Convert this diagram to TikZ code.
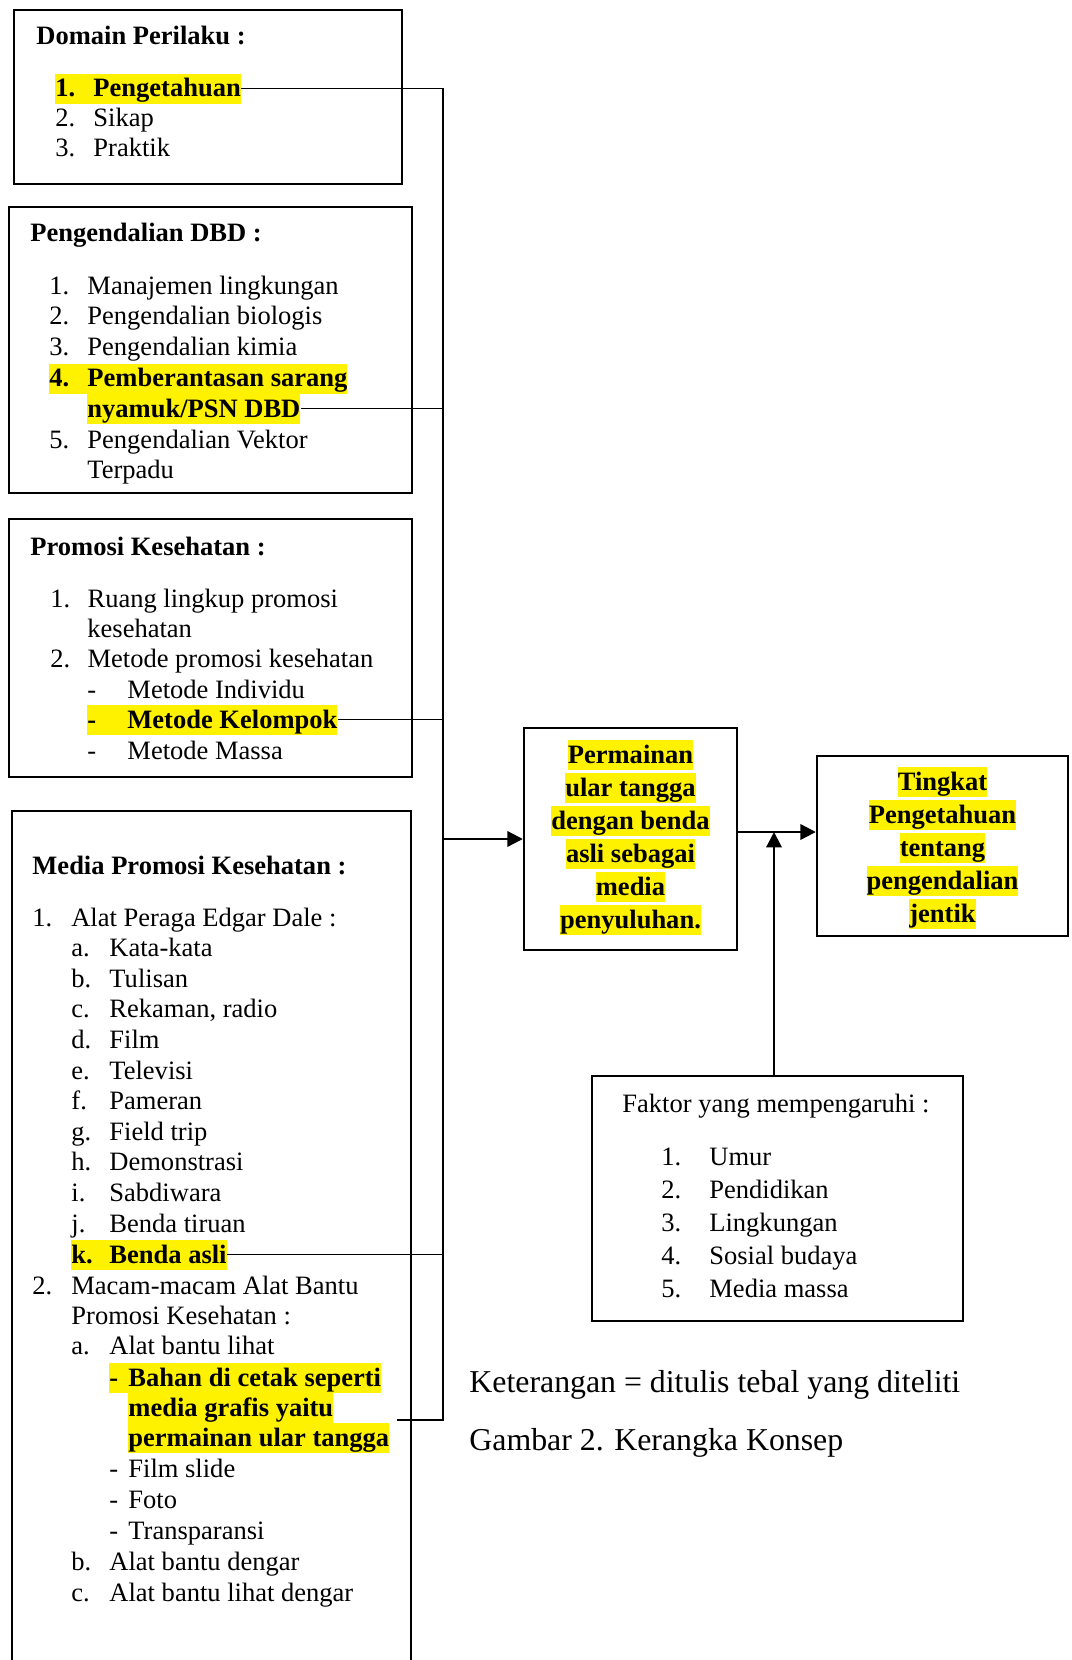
\documentclass[tikz,border=0pt]{standalone}
\usepackage{fontspec}
\setmainfont{Liberation Serif}
\usetikzlibrary{fit,arrows.meta}
\newcommand{\numlbl}[2][17.2pt]{\makebox[#1][l]{#2}}
\newcommand{\mk}[1]{{\fboxsep=0pt\colorbox{yellow}{\vrule height 10.6pt depth 3pt width 0pt #1}}}

\begin{document}
\begin{tikzpicture}[x=0.4525pt, y=-0.4525pt,
  box/.style={draw, line width=1.1pt, inner sep=0pt},
  txt/.style={anchor=base west, inner sep=0pt, font=\fontsize{12}{14}\selectfont},
  hd/.style={txt, font=\fontsize{12}{14}\selectfont\bfseries},
  hl/.style={txt, fill=yellow, text height=10.6pt, text depth=3pt, font=\fontsize{12}{14}\selectfont\bfseries},
  midtxt/.style={anchor=north, inner sep=0pt, align=center, font=\fontsize{12}{14.9}\selectfont\bfseries},
  link/.style={line width=0.6pt},
  arr/.style={line width=1pt, -{Triangle[length=7pt,width=7pt]}}]
\useasboundingbox (0,0) rectangle (1071,1660);
\clip (0,0) rectangle (1071,1660);

% domain perilaku
\node[box, fit={(14,10) (402,184)}] (domain) {};
\node[hd] (domaint) at (36,45) {Domain Perilaku :};
\node[hl] (dom1) at (55,97) {\numlbl{1.}Pengetahuan};
\node[txt] (dom2) at (55,127) {\numlbl{2.}Sikap};
\node[txt] (dom3) at (55,157) {\numlbl{3.}Praktik};

% pengendalian dbd
\node[box, fit={(9,207) (412,493)}] (dbd) {};
\node[hd] (dbdt) at (30,242) {Pengendalian DBD :};
\node[txt] (dbd1) at (49,295) {\numlbl{1.}Manajemen lingkungan};
\node[txt] (dbd2) at (49,325) {\numlbl{2.}Pengendalian biologis};
\node[txt] (dbd3) at (49,356) {\numlbl{3.}Pengendalian kimia};
\node[hl] (dbd4) at (49,387) {\numlbl{4.}Pemberantasan sarang};
\node[hl] (psn) at (87,417) {nyamuk/PSN DBD};
\node[txt] (dbd5) at (49,448) {\numlbl{5.}Pengendalian Vektor};
\node[txt] (dbd5b) at (87,478) {Terpadu};

% promosi kesehatan
\node[box, fit={(9,519) (412,777)}] (promkes) {};
\node[hd] (promkest) at (30,555) {Promosi Kesehatan :};
\node[txt] (pk1) at (50,607) {\numlbl[16.8pt]{1.}Ruang lingkup promosi};
\node[txt] (pk1b) at (87,637) {kesehatan};
\node[txt] (pk2) at (50,667) {\numlbl[16.8pt]{2.}Metode promosi kesehatan};
\node[txt] (pk2a) at (87,698) {\numlbl[18.1pt]{-}Metode Individu};
\node[hl] (kelompok) at (87,728) {\numlbl[18.1pt]{-}Metode Kelompok};
\node[txt] (pk2c) at (87,759) {\numlbl[18.1pt]{-}Metode Massa};

% media promosi kesehatan
\node[box, fit={(12,811) (411,1700)}] (media) {};
\node[hd] (mediat) at (32,874) {Media Promosi Kesehatan :};
\node[txt] (md1) at (32,926) {\numlbl[17.6pt]{1.}Alat Peraga Edgar Dale :};
\node[txt] (md1a) at (71,956) {\numlbl{a.}Kata-kata};
\node[txt] (md1b) at (71,987) {\numlbl{b.}Tulisan};
\node[txt] (md1c) at (71,1017) {\numlbl{c.}Rekaman, radio};
\node[txt] (md1d) at (71,1048) {\numlbl{d.}Film};
\node[txt] (md1e) at (71,1079) {\numlbl{e.}Televisi};
\node[txt] (md1f) at (71,1109) {\numlbl{f.}Pameran};
\node[txt] (md1g) at (71,1140) {\numlbl{g.}Field trip};
\node[txt] (md1h) at (71,1170) {\numlbl{h.}Demonstrasi};
\node[txt] (md1i) at (71,1201) {\numlbl{i.}Sabdiwara};
\node[txt] (md1j) at (71,1232) {\numlbl{j.}Benda tiruan};
\node[hl] (bendaasli) at (71,1263) {\numlbl{k.}Benda asli};
\node[txt] (md2) at (32,1294) {\numlbl[17.6pt]{2.}Macam-macam Alat Bantu};
\node[txt] (md2b) at (71,1324) {Promosi Kesehatan :};
\node[txt] (md2a) at (71,1354) {\numlbl{a.}Alat bantu lihat};
\node[hl] (bahan1) at (109,1386) {\numlbl[8.6pt]{-}Bahan di cetak seperti};
\node[hl] (bahan2) at (128,1416) {media grafis yaitu};
\node[hl] (bahan3) at (128,1446) {permainan ular tangga};
\node[txt] (md2a2) at (109,1477) {\numlbl[8.6pt]{-}Film slide};
\node[txt] (md2a3) at (109,1508) {\numlbl[8.6pt]{-}Foto};
\node[txt] (md2a4) at (109,1539) {\numlbl[8.6pt]{-}Transparansi};
\node[txt] (md2bb) at (71,1570) {\numlbl{b.}Alat bantu dengar};
\node[txt] (md2c) at (71,1601) {\numlbl{c.}Alat bantu lihat dengar};

% middle and right
\node[box, fit={(524,728) (737,950)}] (permainan) {};
\node[midtxt] (permainant) at (630.5,739.6)
  {\mk{Permainan}\\\mk{ular tangga}\\\mk{dengan benda}\\\mk{asli sebagai}\\\mk{media}\\\mk{penyuluhan.}};
\node[box, fit={(817,756) (1068,936)}] (tingkat) {};
\node[midtxt] (tingkatt) at (942.5,766.6)
  {\mk{Tingkat}\\\mk{Pengetahuan}\\\mk{tentang}\\\mk{pengendalian}\\\mk{jentik}};

% faktor
\node[box, fit={(592,1076) (963,1321)}] (faktor) {};
\node[txt] (faktort) at (622,1112) {Faktor yang mempengaruhi :};
\node[txt] (fk1) at (661,1165) {\numlbl[21.7pt]{1.}Umur};
\node[txt] (fk2) at (661,1198) {\numlbl[21.7pt]{2.}Pendidikan};
\node[txt] (fk3) at (661,1231) {\numlbl[21.7pt]{3.}Lingkungan};
\node[txt] (fk4) at (661,1264) {\numlbl[21.7pt]{4.}Sosial budaya};
\node[txt] (fk5) at (661,1297) {\numlbl[21.7pt]{5.}Media massa};

\node[txt, font=\fontsize{14.4}{17}\selectfont] (ket) at (469,1392) {Keterangan = ditulis tebal yang diteliti};
\node[txt, font=\fontsize{14.4}{17}\selectfont] (gambar) at (469,1450) {Gambar 2. Kerangka Konsep};

% connectors
\coordinate (bus) at (443,1420);
\coordinate (bahanend) at (397,1420);
\coordinate (join) at (774,832);
\draw[link] (dom1.east) -- (dom1.east -| bus) -- (bus) -- (bahanend);
\draw[link] (psn.east) -- (psn.east -| bus);
\draw[link] (kelompok.east) -- (kelompok.east -| bus);
\draw[link] (bendaasli.east) -- (bendaasli.east -| bus);
\draw[arr] (permainan.west -| bus) -- (permainan.west);
\draw[arr] (permainan.east |- join) -- (tingkat.west |- join);
\draw[arr] (faktor.north -| join) -- (join);
\end{tikzpicture}
\end{document}
